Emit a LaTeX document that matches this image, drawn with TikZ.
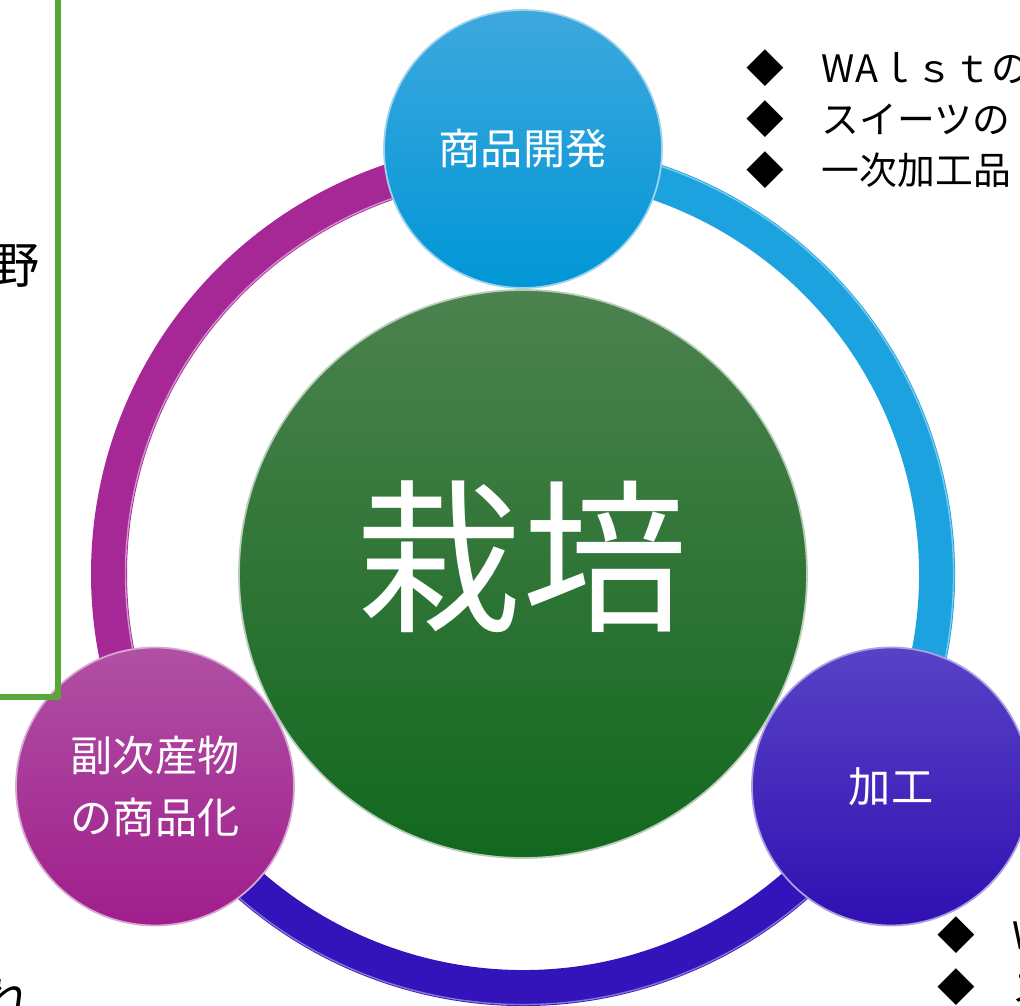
\documentclass[tikz,border=0pt]{standalone}
\usepackage{fontspec}
\newfontfamily\jp{Noto Sans CJK JP}
\usetikzlibrary{positioning}

\definecolor{skyring}{RGB}{28,162,222}
\definecolor{magring}{RGB}{166,40,150}
\definecolor{indring}{RGB}{50,20,186}
\definecolor{skytop}{RGB}{62,168,222}
\definecolor{skybot}{RGB}{0,150,214}
\definecolor{indtop}{RGB}{88,66,198}
\definecolor{indbot}{RGB}{48,16,178}
\definecolor{magtop}{RGB}{176,80,164}
\definecolor{magbot}{RGB}{160,30,140}
\definecolor{seedtop}{RGB}{76,130,78}
\definecolor{seedbot}{RGB}{18,104,30}
\definecolor{framegreen}{RGB}{88,168,56}

\tikzset{
  ringarc/.style={line width=0.72cm},
  shine/.style={line width=0.8pt,opacity=0.7},
  bubble/.style={circle,minimum size=5.56cm,inner sep=0pt,line width=1pt,text=white,align=center,font=\jp\fontsize{24}{35}\selectfont},
  listtext/.style={anchor=west,inner sep=0pt,font=\jp\fontsize{21.5}{29}\selectfont},
  cuttext/.style={anchor=east,inner sep=0pt,font=\jp\fontsize{28}{30}\selectfont},
}

\begin{document}
\begin{tikzpicture}
\useasboundingbox (0,0) rectangle (20.4,20.12);
\clip (0,0) rectangle (20.4,20.12);
\coordinate (C) at (10.46,8.64);

% ring
\draw[ringarc,magring] (C) ++(90:8.28) arc[start angle=90,end angle=210,radius=8.28];
\draw[ringarc,indring] (C) ++(210:8.28) arc[start angle=210,end angle=330,radius=8.28];
\draw[ringarc,skyring] (C) ++(-30:8.28) arc[start angle=-30,end angle=90,radius=8.28];
\draw[shine,magring!30!white] (C) ++(90:7.95) arc[start angle=90,end angle=210,radius=7.95];
\draw[shine,indring!40!white] (C) ++(210:8.61) arc[start angle=210,end angle=330,radius=8.61];
\draw[shine,skyring!40!white] (C) ++(-30:8.61) arc[start angle=-30,end angle=90,radius=8.61];

% centre
\node[circle,minimum size=11.36cm,inner sep=0pt,top color=seedtop,bottom color=seedbot,draw=seedtop!40!white,line width=1pt] (seed) at (C) {};
\node[text=white,inner sep=0pt,font=\jp\fontsize{94}{94}\selectfont] (seedtxt) at (10.44,8.98) {栽培};

% outer nodes
\node[bubble,top color=skytop,bottom color=skybot,draw=skytop!50!white] (develop) at (10.46,17.14) {商品開発};
\node[bubble,top color=indtop,bottom color=indbot,draw=indtop!50!white] (process) at (17.82,4.39) {加工};
\node[bubble,top color=magtop,bottom color=magbot,draw=magtop!50!white] (byprod) at (3.10,4.39) {副次産物\\の商品化};

% lists
\node[listtext] (topA) at (14.92,18.76) {◆　WAｌｓｔの};
\node[listtext] (topB) at (14.92,17.74) {◆　スイーツの};
\node[listtext] (topC) at (14.92,16.72) {◆　一次加工品};
\node[listtext] (botA) at (18.74,1.42) {◆　W};
\node[listtext] (botB) at (18.74,0.38) {◆　ス};

% left box
\draw[framegreen,line width=3.6pt,line join=round] (1.16,20.5) -- (1.16,6.18) -- (-0.3,6.18);
\node[cuttext] (leftA) at (0.80,14.80) {野};
\node[cuttext] (leftB) at (0.64,0.12) {れ};

\end{tikzpicture}
\end{document}
